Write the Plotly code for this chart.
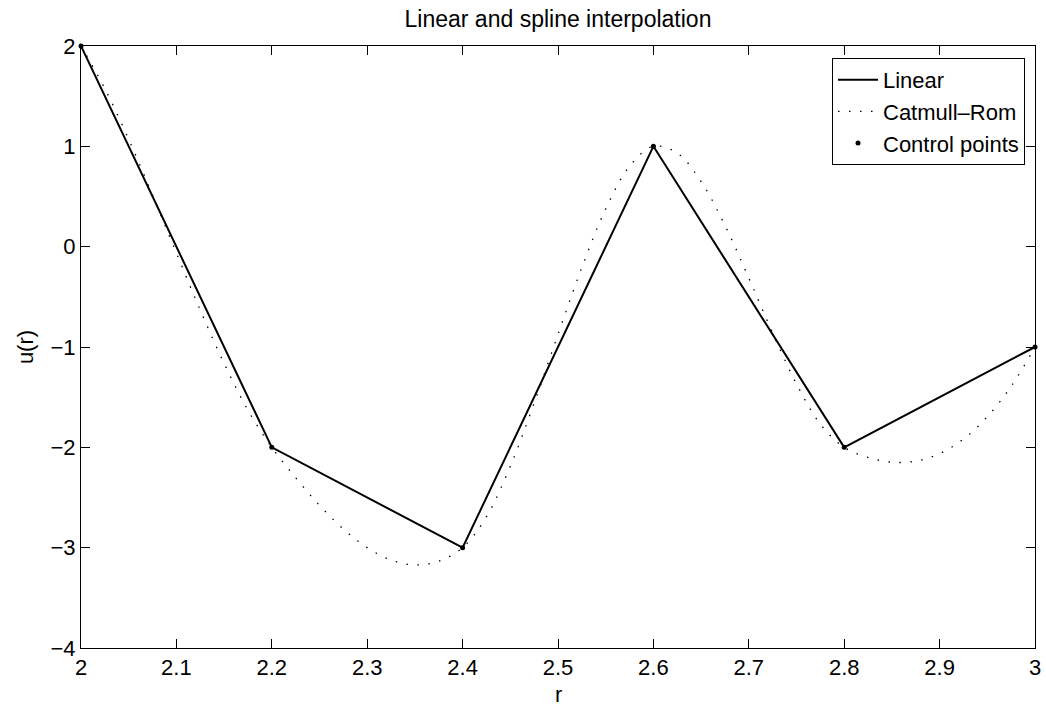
import plotly.graph_objects as go

# Control points
r_ctrl = [2.0, 2.2, 2.4, 2.6, 2.8, 3.0]
u_ctrl = [2.0, -2.0, -3.0, 1.0, -2.0, -1.0]

# Catmull-Rom curve values
r_spline = [2.000, 2.025, 2.050, 2.075, 2.100, 2.125, 2.150, 2.175,
            2.200, 2.225, 2.250, 2.275, 2.300, 2.325, 2.350, 2.375,
            2.400, 2.425, 2.450, 2.475, 2.500, 2.525, 2.550, 2.575,
            2.600, 2.625, 2.650, 2.675, 2.700, 2.725, 2.750, 2.775,
            2.800, 2.825, 2.850, 2.875, 2.900, 2.925, 2.950, 2.975, 3.000]
u_spline = [2.000, 1.575, 1.070, 0.515, -0.063, -0.632, -1.164, -1.630,
            -2.000, -2.303, -2.578, -2.814, -3.000, -3.123, -3.172, -3.135,
            -3.000, -2.691, -2.188, -1.559, -0.875, -0.207, 0.375, 0.801,
            1.000, 0.933, 0.648, 0.212, -0.313, -0.860, -1.367, -1.769,
            -2.000, -2.101, -2.148, -2.138, -2.063, -1.917, -1.695, -1.392, -1.000]

x_ticks = [2, 2.1, 2.2, 2.3, 2.4, 2.5, 2.6, 2.7, 2.8, 2.9, 3]
x_ticklabels = ["2", "2.1", "2.2", "2.3", "2.4", "2.5", "2.6", "2.7", "2.8", "2.9", "3"]
y_ticks = [-4, -3, -2, -1, 0, 1, 2]
y_ticklabels = ["\u22124", "\u22123", "\u22122", "\u22121", "0", "1", "2"]

FONT = "Liberation Sans, Arial, Helvetica, sans-serif"
FS = 22
LFS = 22

fig = go.Figure()
fig.add_trace(go.Scatter(x=r_ctrl, y=u_ctrl, mode="lines", name="Linear",
                         line=dict(color="black", width=2)))
fig.add_trace(go.Scatter(x=r_spline, y=u_spline, mode="lines", name="Catmull\u2013Rom",
                         line=dict(color="black", width=1.3, dash="1.5px,9.5px",
                                   shape="spline", smoothing=1)))
fig.add_trace(go.Scatter(x=r_ctrl, y=u_ctrl, mode="markers", name="Control points",
                         marker=dict(color="black", size=5), cliponaxis=False))

axis_common = dict(showline=True, linecolor="black", linewidth=1, mirror="ticks",
                   ticks="inside", ticklen=9, tickwidth=1, tickcolor="black",
                   showgrid=False, zeroline=False,
                   tickfont=dict(family=FONT, size=FS, color="black"))

fig.update_layout(
    width=1046, height=707,
    margin=dict(l=81, r=11, t=46, b=59, pad=0),
    paper_bgcolor="white", plot_bgcolor="white",
    font=dict(family=FONT, size=FS, color="black"),
    title=dict(text="Linear and spline interpolation", x=0.5, xref="paper", xanchor="center",
               y=1 - 19 / 707, yref="container", yanchor="middle",
               font=dict(family=FONT, size=23, color="black")),
    xaxis=dict(range=[2, 3], tickvals=x_ticks, ticktext=x_ticklabels,
               automargin=False, **axis_common),
    yaxis=dict(range=[-4, 2], tickvals=y_ticks, ticktext=y_ticklabels,
               title=dict(text="u(r)", standoff=10, font=dict(family=FONT, size=FS)),
               automargin=False, **axis_common),
    legend=dict(x=(1025 - 81) / 954, xanchor="right", y=1 - (58 - 46) / 602, yanchor="top",
                bgcolor="white", bordercolor="black", borderwidth=1,
                font=dict(family=FONT, size=LFS, color="black"),
                tracegroupgap=0, itemwidth=40),
    showlegend=True,
    annotations=[dict(text="r", xref="paper", yref="paper", x=0.5, y=0,
                      xanchor="center", yanchor="middle", yshift=-46, showarrow=False,
                      font=dict(family=FONT, size=FS, color="black"))],
)

fig.write_html("out.html")
